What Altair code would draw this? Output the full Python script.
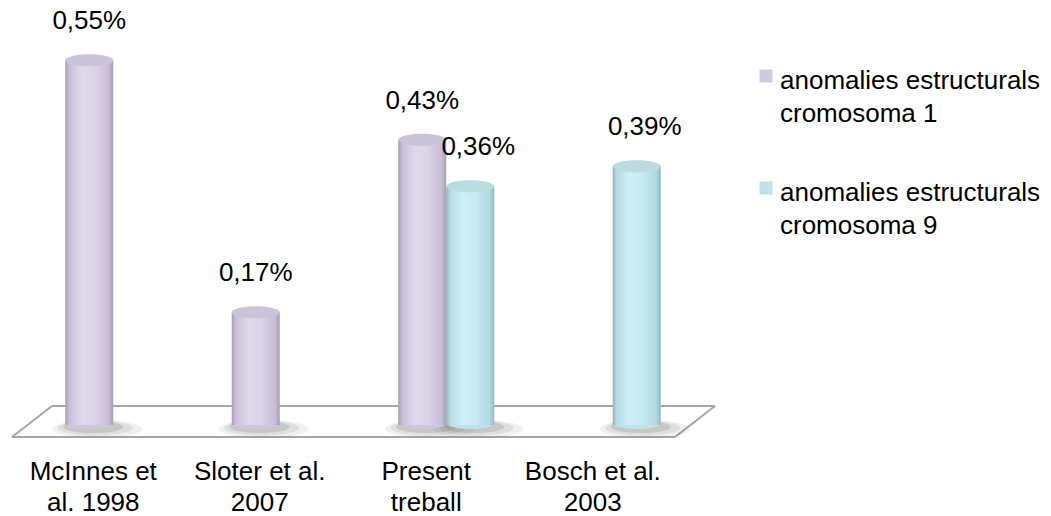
import altair as alt
import pandas as pd

categories = ["McInnes et\nal. 1998", "Sloter et al.\n2007", "Present\ntreball", "Bosch et al.\n2003"]
series = ["anomalies estructurals\ncromosoma 1", "anomalies estructurals\ncromosoma 9"]
values_c1 = [0.55, 0.17, 0.43, None]
values_c9 = [None, None, 0.36, 0.39]

FONT = "Liberation Sans"
FS = 26
swatch = ["#d0c8e0", "#bfe3eb"]
body_stops = [
    [("#a49dae", 0.0), ("#c8bfd7", 0.08), ("#e0d9ec", 0.35), ("#dcd4e9", 0.6), ("#c8bdd6", 0.9), ("#a69db2", 1.0)],
    [("#8fb4bb", 0.0), ("#b5dce3", 0.08), ("#cef0f6", 0.35), ("#c8ecf2", 0.6), ("#b0d9e0", 0.9), ("#93b9c0", 1.0)],
]
cap_fill = ["#cbc3d8", "#b9dce1"]
bottom_fill = ["#cfc6dc", "#bde2e8"]
series_dx = [-4, 44]
label_dx = [0, 8]

rows = []
for s_idx, vals in enumerate([values_c1, values_c9]):
    for c, v in zip(categories, vals):
        if v is not None:
            rows.append({"category": c, "series": series[s_idx], "s": s_idx, "value": v, "zero": 0.0,
                         "label": f"{v:.2f}".replace(".", ",") + "%"})
df = pd.DataFrame(rows)

x_enc = alt.X("category:N", sort=categories,
              scale=alt.Scale(paddingInner=0, paddingOuter=0), axis=None)
y_enc = alt.Y("value:Q", scale=alt.Scale(domain=[0, 0.6]), axis=None)
y0_enc = alt.Y("zero:Q", axis=None)

def grad(stops):
    return alt.Gradient(gradient="linear",
                        stops=[alt.GradientStop(color=c, offset=o) for c, o in stops],
                        x1=0, x2=1, y1=0, y2=0)

ELLIPSE = "M-1,0 A1,0.25 0 1,1 1,0 A1,0.25 0 1,1 -1,0 Z"
SHADOW = "M-1,0 A1,0.2 0 1,1 1,0 A1,0.2 0 1,1 -1,0 Z"

floor = alt.Chart(pd.DataFrame({"k": [0]}))
layers = []
for (xa, ya, xb, yb) in [(2, 410, 665, 410), (42, 379, 705, 379), (2, 410, 42, 379), (705, 379, 665, 410)]:
    layers.append(floor.mark_rule(color="#a6a6a6", strokeWidth=2).encode(
        x=alt.value(xa), y=alt.value(ya), x2=alt.value(xb), y2=alt.value(yb)))

subs = [alt.Chart(df[df["s"] == i]) for i in range(2)]

for s_idx in range(2):
    sub = subs[s_idx]
    dx = series_dx[s_idx]
    for size, op, ox, oy in [(8100, 0.10, 8, 4), (5600, 0.14, 6, 3), (3600, 0.2, 4, 2)]:
        layers.append(sub.mark_point(shape=SHADOW, size=size, filled=True, color="#6e6e6e",
                                     opacity=op, xOffset=dx + ox, yOffset=oy).encode(
            x=x_enc, y=y0_enc))
for s_idx in range(2):
    sub = subs[s_idx]
    dx = series_dx[s_idx]
    layers.append(sub.mark_point(shape=ELLIPSE, size=2304, filled=True, opacity=1,
                                 color=bottom_fill[s_idx], xOffset=dx, yOffset=-2).encode(
        x=x_enc, y=y0_enc))
    layers.append(sub.mark_bar(size=48, xOffset=dx, color=grad(body_stops[s_idx])).encode(
        x=x_enc, y=y_enc, y2="zero:Q"))
    layers.append(sub.mark_point(shape=ELLIPSE, size=2304, filled=True, opacity=1,
                                 color=cap_fill[s_idx], xOffset=dx).encode(
        x=x_enc, y=y_enc))
    layers.append(sub.mark_text(font=FONT, fontSize=FS, color="#000000", xOffset=dx + label_dx[s_idx],
                                dy=-39, baseline="middle", align="center").encode(
        x=x_enc, y=y_enc, text="label:N"))

cat_df = pd.DataFrame({"category": categories})
layers.append(alt.Chart(cat_df).mark_text(font=FONT, fontSize=FS, color="#000000", lineBreak="\n",
                                          lineHeight=31, baseline="middle", align="center").encode(
    x=x_enc, y=alt.value(445), text="category:N"))

leg_sy = [49, 161]
leg_ty = [54, 166]
for i in range(2):
    leg = alt.Chart(pd.DataFrame({"series": [series[i]]}))
    layers.append(leg.mark_square(size=169, opacity=1, color=swatch[i]).encode(
        x=alt.value(756), y=alt.value(leg_sy[i])))
    layers.append(leg.mark_text(font=FONT, fontSize=FS, color="#000000", lineBreak="\n", lineHeight=33,
                                align="left", baseline="middle").encode(
        x=alt.value(770), y=alt.value(leg_ty[i]), text="series:N"))

chart = alt.layer(*layers).properties(
    width=666, height=398,
    autosize=alt.AutoSizeParams(type="none"),
    padding={"left": 10, "top": 27, "right": 375, "bottom": 91},
    background="white",
).configure_view(strokeWidth=0)

chart.save("out.html", embed_options={"renderer": "svg", "actions": False})
